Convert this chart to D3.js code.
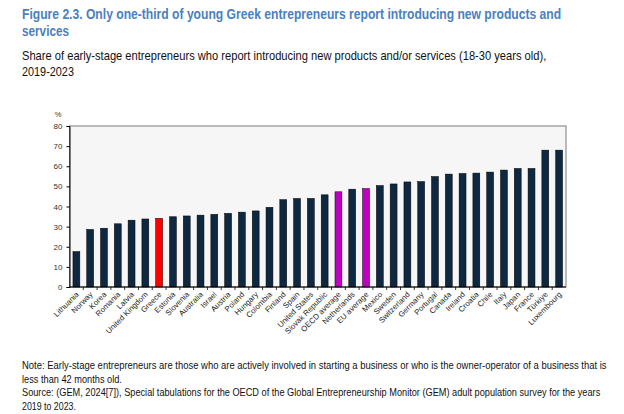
<!DOCTYPE html>
<html>
<head>
<meta charset="utf-8">
<script src="https://cdn.jsdelivr.net/npm/d3@7"></script>
<style>
  body { margin: 0; background: #fff; }
  svg { display: block; font-family: "Liberation Sans", Arial, sans-serif; }
</style>
</head>
<body>
<svg id="chart" width="624" height="414"></svg>
<script>
// countries, sorted as in the figure
var countries = ["Lithuania", "Norway", "Korea", "Romania", "Latvia", "United Kingdom", "Greece",
  "Estonia", "Slovenia", "Australia", "Israel", "Austria", "Poland", "Hungary", "Colombia",
  "Finland", "Spain", "United States", "Slovak Republic", "OECD average", "Netherlands",
  "EU average", "Mexico", "Sweden", "Switzerland", "Germany", "Portugal", "Canada", "Ireland",
  "Croatia", "Chile", "Italy", "Japan", "France", "Türkiye", "Luxembourg"];

// share of early-stage entrepreneurs (18-30) introducing new products/services, %
var shares = [17.6, 28.6, 29.2, 31.4, 33.2, 33.8, 34.1,
  34.9, 35.3, 35.7, 36.1, 36.6, 37.2, 37.8, 39.6,
  43.4, 44.0, 44.0, 45.8, 47.3, 48.6,
  48.9, 50.4, 51.2, 52.2, 52.4, 54.9, 56.1, 56.4,
  56.6, 57.1, 58.1, 58.9, 58.9, 68.0, 68.0];

var yTicks = [0, 10, 20, 30, 40, 50, 60, 70, 80];

var highlight = { "Greece": "#ff0000", "OECD average": "#c000c0", "EU average": "#c000c0" };

var svg = d3.select("#chart");

// the installed fonts are wider than the original narrow face,
// so each line gets squeezed horizontally to the width it has in the figure
function addLine(txt, xPos, yPos, size, width, opts) {
  var g = svg.append("g");
  var t = g.append("text").attr("x", 0).attr("y", 0)
    .attr("font-size", size).attr("fill", opts.fill || "#111")
    .attr("font-weight", opts.bold ? "bold" : "normal")
    .text(txt);
  var sx = width / t.node().getComputedTextLength();
  g.attr("transform", "translate(" + xPos + "," + yPos + ") scale(" + sx + ",1)");
  return t;
}

var blue = "#4a7fc1";
addLine("Figure 2.3. Only one-third of young Greek entrepreneurs report introducing new products and", 22, 19, 14, 540, { bold: true, fill: blue });
addLine("services", 22, 36, 14, 47, { bold: true, fill: blue });
addLine("Share of early-stage entrepreneurs who report introducing new products and/or services (18-30 years old),", 22, 60, 12.5, 525, {});
addLine("2019-2023", 22, 76, 12.5, 52, {});

var plotLeft = 69.5, plotRight = 566, plotTop = 126, plotBottom = 287;

var x = d3.scaleBand().domain(countries).range([plotLeft, plotRight])
  .paddingInner(0.5).paddingOuter(0.25);
var y = d3.scaleLinear().domain([0, 80]).range([plotBottom, plotTop]);

// plot background and frame
svg.append("rect").attr("x", plotLeft).attr("y", plotTop)
  .attr("width", plotRight - plotLeft).attr("height", plotBottom - plotTop)
  .attr("fill", "#f6f6f6").attr("stroke", "#7a7a7a").attr("stroke-width", 1);

// bars
svg.append("g").selectAll("rect").data(countries).join("rect")
  .attr("x", function(d) { return x(d); })
  .attr("y", function(d, i) { return y(shares[i]); })
  .attr("width", x.bandwidth())
  .attr("height", function(d, i) { return plotBottom - y(shares[i]); })
  .attr("fill", function(d) { return highlight[d] || "#0e2841"; })
  .attr("stroke", "#000").attr("stroke-width", 0.5);

// y axis
var yAxis = svg.append("g").attr("transform", "translate(" + plotLeft + ",0)")
  .call(d3.axisLeft(y).tickValues(yTicks).tickSize(3).tickPadding(4));
yAxis.select(".domain").attr("stroke", "#000");
yAxis.selectAll(".tick line").attr("stroke", "#000");
yAxis.selectAll("text").attr("font-size", 8).attr("fill", "#333")
  .attr("font-family", "'Liberation Sans', sans-serif");
svg.append("text").attr("x", 58).attr("y", 117).attr("text-anchor", "middle")
  .attr("font-size", 7.5).attr("fill", "#333").text("%");

// x axis: baseline with ticks between categories
var step = x.step();
var xAxis = svg.append("g");
xAxis.append("line").attr("x1", plotLeft).attr("x2", plotRight)
  .attr("y1", plotBottom).attr("y2", plotBottom).attr("stroke", "#000");
xAxis.selectAll("line.tk").data(countries.slice(1)).join("line").attr("class", "tk")
  .attr("x1", function(d) { return x(d) - step * x.paddingInner() / 2; })
  .attr("x2", function(d) { return x(d) - step * x.paddingInner() / 2; })
  .attr("y1", plotBottom).attr("y2", plotBottom + 3).attr("stroke", "#000").attr("stroke-width", 0.8);
xAxis.selectAll("text").data(countries).join("text")
  .attr("transform", function(d) {
    return "translate(" + (x(d) + x.bandwidth() / 2 + 3) + "," + (plotBottom + 8) + ") rotate(-45)";
  })
  .attr("text-anchor", "end")
  .attr("font-size", 7.8).attr("fill", "#222")
  .text(function(d) { return d; });

// notes
var notes = [
  ["Note: Early-stage entrepreneurs are those who are actively involved in starting a business or who is the owner-operator of a business that is", 585],
  ["less than 42 months old.", 100],
  ["Source: (GEM, 2024[7]), Special tabulations for the OECD of the Global Entrepreneurship Monitor (GEM) adult population survey for the years", 579],
  ["2019 to 2023.", 54]
];
notes.forEach(function(n, i) {
  addLine(n[0], 22, 369 + i * 13.5, 10.5, n[1], {});
});
</script>
</body>
</html>
